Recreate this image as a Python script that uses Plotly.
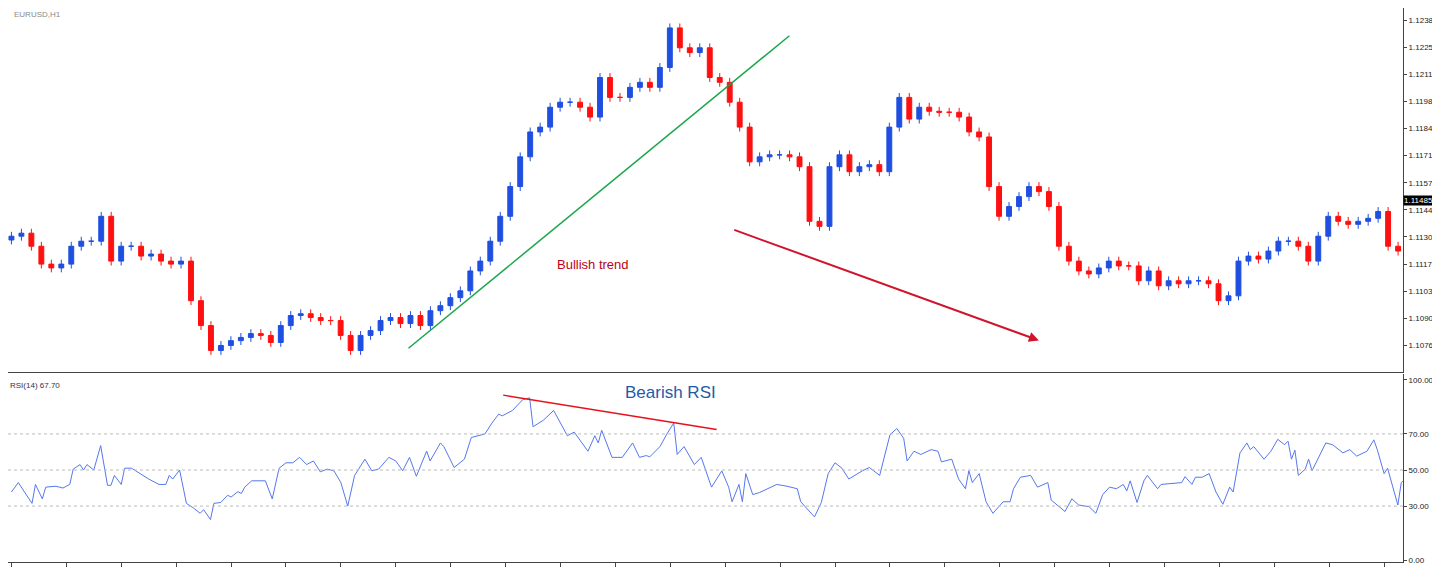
import numpy as np
import plotly.graph_objects as go
from plotly.subplots import make_subplots

# closes, one candle per ~3 hours
closes = [1.11309,1.11324,1.11259,1.11170,1.11151,1.11170,1.11259,1.11284,1.11284,1.11408,
          1.11185,1.11259,1.11259,1.11210,1.11220,1.11185,1.11170,1.11185,1.10988,1.10864,
          1.10740,1.10765,1.10789,1.10805,1.10824,1.10815,1.10780,1.10864,1.10914,1.10923,
          1.10904,1.10889,1.10889,1.10815,1.10740,1.10815,1.10839,1.10889,1.10904,1.10874,
          1.10914,1.10864,1.10938,1.10963,1.11003,1.11037,1.11136,1.11185,1.11284,1.11408,
          1.11556,1.11704,1.11828,1.11852,1.11951,1.11976,1.11976,1.11951,1.11902,1.12099,
          1.12000,1.12000,1.12050,1.12075,1.12050,1.12149,1.12346,1.12247,1.12223,1.12247,
          1.12099,1.12075,1.11976,1.11852,1.11679,1.11704,1.11714,1.11714,1.11704,1.11655,
          1.11383,1.11358,1.11655,1.11714,1.11630,1.11655,1.11665,1.11630,1.11852,1.12000,
          1.11892,1.11951,1.11931,1.11926,1.11926,1.11902,1.11828,1.11803,1.11556,1.11408,
          1.11457,1.11506,1.11556,1.11531,1.11457,1.11259,1.11185,1.11136,1.11121,1.11151,
          1.11185,1.11161,1.11161,1.11087,1.11136,1.11062,1.11087,1.11072,1.11087,1.11087,
          1.11072,1.10988,1.11012,1.11185,1.11210,1.11195,1.11235,1.11284,1.11284,1.11259,
          1.11185,1.11309,1.11408,1.11383,1.11368,1.11383,1.11398,1.11432,1.11259,1.11235]
first_open = 1.11290

rsi_hour = [0,2,6,7,9,10,13,15,17,18,20,21,22,24,26,28,29,30,32,33,35,37,39,40,43,45,46,47,49,51,
            53,55,56,58,59,61,63,64,66,67,68,70,74,76,78,80,82,84,86,88,90,92,94,96,98,100,103,105,
            107,110,112,114,116,118,121,122,125,126,129,132,134,138,140,142,143,146,149,151,152,155,
            158,160,162,164,168,170,171,172,175,178,181,183,185,186,189,191,193,194,196,199,201,
            204,207,209,210,212,213,214,216,218,221,223,226,229,230,232,234,236,238,240,242,244,248,
            250,253,256,258,260,261,263,265,268,270,271,274,276,278,279,280,282,284,286,289,291,292,
            294,297,299,302,303,305,307,309,311,314,316,318,320,322,324,325,326,328,330,331,334,335,
            338,341,342,344,345,347,349,351,353,355,356,358,360,361,362,365,367,369,371,372,373,374,
            375,377,378,379,383,385,388,390,392,395,397,398,400,401,404,405,405.5]
rsi_vals = [37.8,43,31.5,42,34,40.5,41,40,42,50.5,53,50,53,50,63.5,41.5,41.5,47,42,51,51,48.7,46,45,42,42,47,45,50,31.5,
            29,26,28,22.5,31.5,32,36,35,38,37,40.5,44,44,34,51,54,54,57,53,55,49,50.5,49.5,43,30,47,56,49.6,
            50.5,57,55,49.6,57,46.5,60.5,55,65,63,51.4,56,68,70,76,81,80,83,89,90,74,77.6,
            83,76,69,71,60.4,69,65,72,57,57,65,57,58,57.3,63,70,76,58.6,63,53,57,
            40.5,49.5,40.5,32.4,42,32.4,48,36.4,37.5,40,42,41,39.6,32.4,28,24,32,48,54,51,45,49.6,
            51.4,47,69.5,73,67.6,55,60.4,58.6,61.3,60.4,54.5,56,45,39.6,49.6,43,48,32.4,26,32.4,32.4,39.6,
            46,47,40.5,43,33.3,30,27,34,30.6,29.7,26,36.4,40.5,39.6,42,38.4,44,32,44,47,39.6,42,
            42.4,43,46.3,42,46,46,48,37.8,31,40.5,37.8,59.5,65,61.3,63,56,60.4,67,64,66,56,61,
            47,50.5,56,49.6,65,64,59.5,61.3,57.7,60.4,66.7,61.3,48,51,30.6,43,44]

tick_labels = ["18 Dec 2019","19 Dec 01:00","19 Dec 17:00","20 Dec 09:00","23 Dec 01:00","23 Dec 17:00",
               "24 Dec 09:00","26 Dec 05:00","26 Dec 21:00","27 Dec 13:00","30 Dec 05:00","30 Dec 21:00",
               "31 Dec 13:00","2 Jan 09:00","3 Jan 01:00","3 Jan 17:00","6 Jan 09:00","7 Jan 01:00",
               "7 Jan 17:00","8 Jan 09:00","9 Jan 01:00","9 Jan 17:00","10 Jan 09:00","13 Jan 01:00",
               "13 Jan 17:00","14 Jan 09:00"]
price_ticks = [1.12385,1.12250,1.12115,1.11980,1.11845,1.11710,1.11575,1.11440,1.11305,1.11170,1.11035,1.10900,1.10765]
rsi_ticks = [0,30,50,70,100]

n = len(closes)
hours = np.arange(n) * 10 / 3.44
opens = [first_open] + closes[:-1]
highs = [max(o, c) + 0.00022 for o, c in zip(opens, closes)]
lows = [min(o, c) - 0.00022 for o, c in zip(opens, closes)]

fig = make_subplots(rows=2, cols=1, shared_xaxes=True, vertical_spacing=0.004,
                    row_heights=[0.66, 0.34])
fig.add_trace(go.Candlestick(x=hours, open=opens, high=highs, low=lows, close=closes,
                             increasing=dict(line=dict(color="#1f4fe0", width=1), fillcolor="#1f4fe0"),
                             decreasing=dict(line=dict(color="#ff1010", width=1), fillcolor="#ff1010"),
                             whiskerwidth=0, showlegend=False), row=1, col=1)
fig.add_trace(go.Scatter(x=rsi_hour, y=rsi_vals, mode="lines", line=dict(color="#5577ee", width=1),
                         showlegend=False), row=2, col=1)

for lv in [30, 50, 70]:
    fig.add_shape(type="line", xref="x2 domain", yref="y2", x0=0, x1=1, y0=lv, y1=lv,
                  line=dict(color="#bbbbbb", width=1, dash="dot"))

fig.add_shape(type="line", xref="x", yref="y", x0=115.7, y0=1.10751, x1=226.7, y1=1.12307,
              line=dict(color="#1aa64a", width=1.5))
fig.add_annotation(x=299.4, y=1.10790, ax=210.2, ay=1.11343, xref="x", yref="y", axref="x", ayref="y",
                   showarrow=True, arrowhead=2, arrowsize=1, arrowwidth=2, arrowcolor="#d0142c", text="")
fig.add_annotation(x=169.5, y=1.11170, xref="x", yref="y", text="Bullish trend", showarrow=False,
                   font=dict(color="#c0001a", size=13, family="Arial"))
fig.add_shape(type="line", xref="x2", yref="y2", x0=143.3, y0=91.5, x1=205.5, y1=72.5,
              line=dict(color="#e8101c", width=1.5))
fig.add_annotation(x=192, y=93, xref="x2", yref="y2", text="Bearish RSI", showarrow=False,
                   font=dict(color="#1f5aa8", size=17, family="Arial"))

fig.add_annotation(x=0.003, y=1, xref="paper", yref="paper", xanchor="left", yanchor="top",
                   text="EURUSD,H1", showarrow=False, font=dict(size=8, color="#888888"))
fig.add_annotation(x=0.0, y=0.33, xref="paper", yref="paper", xanchor="left", yanchor="top",
                   text="RSI(14) 67.70", showarrow=False, font=dict(size=8, color="#333333"))
fig.add_annotation(x=1.0, y=1.11485, xref="paper", yref="y", xanchor="left", text="1.11485",
                   showarrow=False, bgcolor="black", font=dict(size=8, color="white"), borderpad=0)

fig.update_layout(width=1440, height=572, margin=dict(l=0, r=45, t=0, b=18),
                  plot_bgcolor="white", paper_bgcolor="white",
                  font=dict(family="Liberation Sans", size=8, color="#222"))
fig.update_xaxes(range=[-1, 405.5], showgrid=False, rangeslider_visible=False, zeroline=False)
fig.update_xaxes(tickmode="array", tickvals=[16 * i for i in range(len(tick_labels))],
                 ticktext=tick_labels, ticks="outside", ticklen=4, showline=True, linecolor="#444",
                 tickangle=0, tickfont=dict(size=8), row=2, col=1)
fig.update_xaxes(showline=True, linecolor="#444", row=1, col=1)
fig.update_yaxes(side="right", range=[1.10632, 1.12445], tickmode="array", tickvals=price_ticks,
                 tickformat=".5f", ticks="outside", ticklen=3, showgrid=False, zeroline=False,
                 showline=True, linecolor="#444", tickfont=dict(size=8), row=1, col=1)
fig.update_yaxes(side="right", range=[-1, 103], tickmode="array", tickvals=rsi_ticks,
                 tickformat=".2f", ticks="outside", ticklen=3, showgrid=False, zeroline=False,
                 showline=True, linecolor="#444", tickfont=dict(size=8), row=2, col=1)

fig.write_html("out.html")
